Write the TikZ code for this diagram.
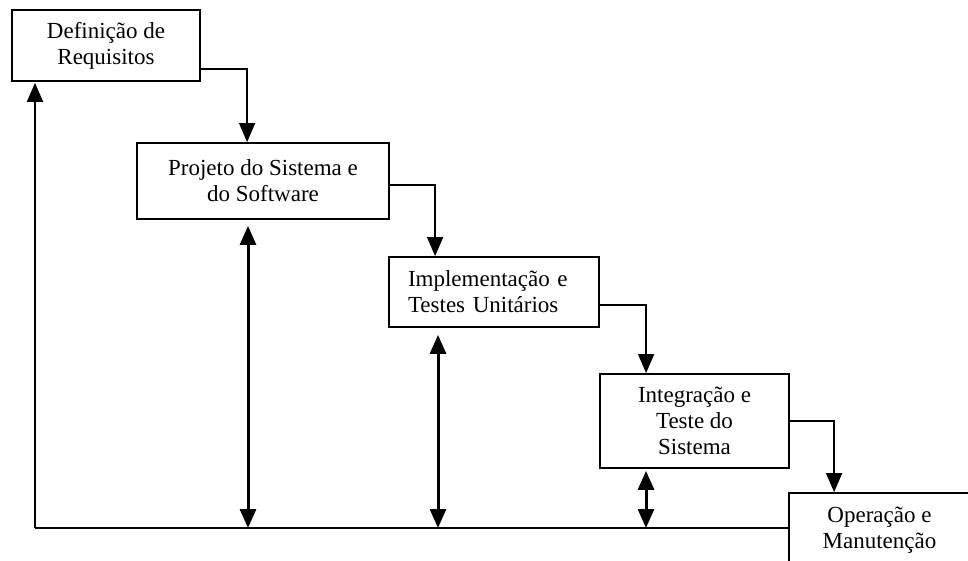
\documentclass[tikz,border=0pt]{standalone}
\usepackage{fontspec}
\setmainfont{Liberation Serif}
\usetikzlibrary{arrows.meta}
\begin{document}
\begin{tikzpicture}[x=1pt,y=-1pt,
  stage/.style={draw, line width=1.8pt, inner sep=0pt,
    font=\fontsize{23}{26}\selectfont, align=center},
  flow/.style={line width=1.5pt, -{Triangle[width=16pt,length=19pt]}},
  feed/.style={line width=2pt},
  both/.style={line width=3pt, {Triangle[width=16pt,length=19pt]}-{Triangle[width=16pt,length=19pt]}}]
\useasboundingbox (0,0) rectangle (968,560);
\clip (0,0) rectangle (968,560);

% the five phases
\node[stage, minimum width=188pt, minimum height=71pt] (req) at (106,45.5)
  {Definição de\\Requisitos};
\node[stage, minimum width=252pt, minimum height=76pt] (proj) at (263,181)
  {Projeto do Sistema e\\do Software};
\node[stage, minimum height=70pt, text width=172pt, align=left, inner xsep=19pt] (impl) at (494,292)
  {Implementação e\\Testes Unitários};
\node[stage, minimum width=189pt, minimum height=94pt] (integ) at (694.5,421)
  {Integração e\\Teste do\\Sistema};
\node[stage, minimum width=181pt, minimum height=75pt] (op) at (879.5,530.5)
  {Operação e\\Manutenção};

% cascade from one phase to the next
\draw[flow] ([yshift=13pt]req.south east) -| ([xshift=111pt]proj.north west);
\draw[flow] ([yshift=-4pt]proj.east) -| ([xshift=47pt]impl.north west);
\draw[flow] ([yshift=-13pt]impl.east) -| ([xshift=47pt]integ.north west);
\draw[flow] (integ.east) -| ([xshift=46pt]op.north west);

% feedback paths
\coordinate (corner) at (35,528);
\coordinate (b2) at (248,528);
\coordinate (b3) at (438,528);
\coordinate (b4) at (646,528);
\draw[feed] (corner -| op.west) -- (corner);
\draw[feed, -{Triangle[width=16pt,length=19pt]}] (corner) -- ([yshift=-1pt]corner |- req.south);
\draw[both, shorten <=6pt] (b2 |- proj.south) -- (b2);
\draw[both, shorten <=7pt] (b3 |- impl.south) -- (b3);
\draw[both, shorten <=2pt] (b4 |- integ.south) -- (b4);
\end{tikzpicture}
\end{document}
